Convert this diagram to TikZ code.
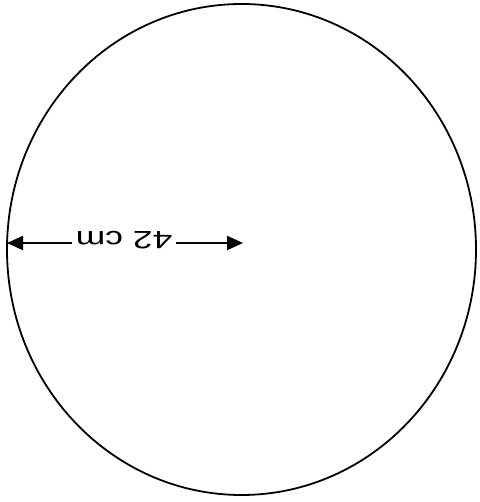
\documentclass[tikz,border=0pt]{standalone}
\usepackage{fontspec}
\setmainfont{Liberation Sans}
\usetikzlibrary{arrows.meta}
\begin{document}
\begin{tikzpicture}[x=1pt,y=1pt,
  outline/.style={line width=1.8pt},
  dimarrow/.style={line width=2pt,-{Triangle[length=16pt,width=14pt]}},
  lbltext/.style={inner xsep=3pt,inner ysep=0pt,font=\fontsize{25}{25}\selectfont}]
\useasboundingbox (0,0) rectangle (479,502);
\draw[outline] (241.5,252.5) ellipse [x radius=234.5, y radius=245.5];
\coordinate (L) at (7,259);
\coordinate (C) at (243,259);
\node[lbltext] (lbl) at (124,262) {\rotatebox{180}{\scalebox{1.42}[1]{42 cm}}};
\draw[dimarrow] (lbl.west |- L) -- (L);
\draw[dimarrow] (lbl.east |- C) -- (C);
\end{tikzpicture}
\end{document}
